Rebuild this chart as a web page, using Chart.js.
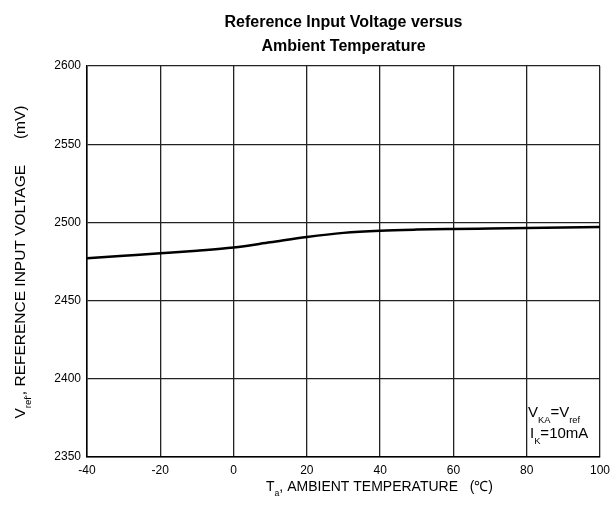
<!DOCTYPE html>
<html>
<head>
<meta charset="utf-8">
<script src="https://cdn.jsdelivr.net/npm/chart.js@4/dist/chart.umd.min.js"></script>
<style>
    body { margin: 0; background: #fff; }
    #wrap { width: 616px; height: 506px; position: relative; }
</style>
</head>
<body>
<div id="wrap"><canvas id="vrefChart" width="616" height="506"></canvas></div>
<script>
// data
const temps = [-40, -30, -20, -10, 0, 10, 20, 30, 40, 50, 60, 70, 80, 90, 100]
const vref = [2477.0, 2478.6, 2480.2, 2481.9, 2484.0, 2487.3, 2490.7, 2493.3, 2494.7, 2495.4, 2495.8, 2496.1, 2496.4, 2496.7, 2497.0]
const xTicks = [-40, -20, 0, 20, 40, 60, 80, 100]
const yTicks = [2350, 2400, 2450, 2500, 2550, 2600]

const FONT = '"Liberation Sans", Arial, sans-serif'

// draws text pieces one after another, some of them as subscripts
const drawPieces = (ctx, pieces, x, y, size) => {
    let cx = x
    pieces.forEach(p => {
        const s = p.sub ? size * 0.62 : size
        ctx.font = s + 'px ' + FONT
        ctx.fillText(p.t, cx, p.sub ? y + size * 0.38 : y)
        cx += ctx.measureText(p.t).width
    })
    return cx - x
}

const widthOf = (ctx, pieces, size) => {
    let w = 0
    pieces.forEach(p => {
        ctx.font = (p.sub ? size * 0.62 : size) + 'px ' + FONT
        w += ctx.measureText(p.t).width
    })
    return w
}

const labelsPlugin = {
    id: 'labels',
    afterDraw(chart) {
        const ctx = chart.ctx
        const area = chart.chartArea
        ctx.save()
        ctx.fillStyle = '#000'
        ctx.textBaseline = 'alphabetic'

        // title
        ctx.textAlign = 'center'
        ctx.font = 'bold 16px ' + FONT
        const mid = (area.left + area.right) / 2
        ctx.fillText('Reference Input Voltage versus', mid, 27)
        ctx.fillText('Ambient Temperature', mid, 51)
        ctx.textAlign = 'left'

        // x axis title
        drawPieces(ctx, [
            { t: 'T' }, { t: 'a', sub: true },
            { t: ', AMBIENT TEMPERATURE   (\u2103)' }
        ], 266, 491, 14)

        // y axis title, rotated
        const yPieces = [
            { t: 'V' }, { t: 'ref\'', sub: true },
            { t: ', REFERENCE INPUT VOLTAGE      (mV)' }
        ]
        const yw = widthOf(ctx, yPieces, 15.5)
        ctx.save()
        ctx.translate(25, 262)
        ctx.rotate(-Math.PI / 2)
        drawPieces(ctx, yPieces, -yw / 2, 0, 15.5)
        ctx.restore()

        // conditions note
        drawPieces(ctx, [
            { t: 'V' }, { t: 'KA', sub: true }, { t: '=V' }, { t: 'ref', sub: true }
        ], 528, 417, 15)
        drawPieces(ctx, [
            { t: 'I' }, { t: 'K', sub: true }, { t: '=10mA' }
        ], 530, 438, 15)

        ctx.restore()
    }
}

const ctx = document.getElementById('vrefChart').getContext('2d')

new Chart(ctx, {
    type: 'line',
    data: {
        datasets: [
            {
                label: 'Vref',
                data: temps.map((t, i) => ({ x: t, y: vref[i] })),
                borderColor: '#000',
                borderWidth: 2.5,
                pointRadius: 0,
                cubicInterpolationMode: 'monotone',
                fill: false,
            },
        ],
    },
    options: {
        responsive: false,
        animation: false,
        layout: {
            padding: { top: 66, right: 12, bottom: 0, left: 0 },
        },
        plugins: {
            legend: { display: false },
            tooltip: { enabled: false },
        },
        scales: {
            x: {
                type: 'linear',
                min: -40,
                max: 100,
                afterBuildTicks: (scale) => {
                    scale.ticks = xTicks.map(v => ({ value: v }))
                },
                afterFit: (scale) => { scale.height = 49 },
                grid: { color: '#222', lineWidth: 1.3, drawTicks: false },
                border: { color: '#000', width: 1.5 },
                ticks: {
                    color: '#000',
                    padding: 6,
                    maxRotation: 0,
                    callback: (v) => String(v),
                    font: { family: FONT, size: 12 },
                },
            },
            y: {
                min: 2350,
                max: 2600,
                afterBuildTicks: (scale) => {
                    scale.ticks = yTicks.map(v => ({ value: v }))
                },
                afterFit: (scale) => { scale.width = 87 },
                grid: { color: '#222', lineWidth: 1.3, drawTicks: false },
                border: { color: '#000', width: 1.5 },
                ticks: {
                    color: '#000',
                    padding: 6,
                    callback: (v) => String(v),
                    font: { family: FONT, size: 12 },
                },
            },
        },
    },
    plugins: [labelsPlugin],
})
</script>
</body>
</html>
